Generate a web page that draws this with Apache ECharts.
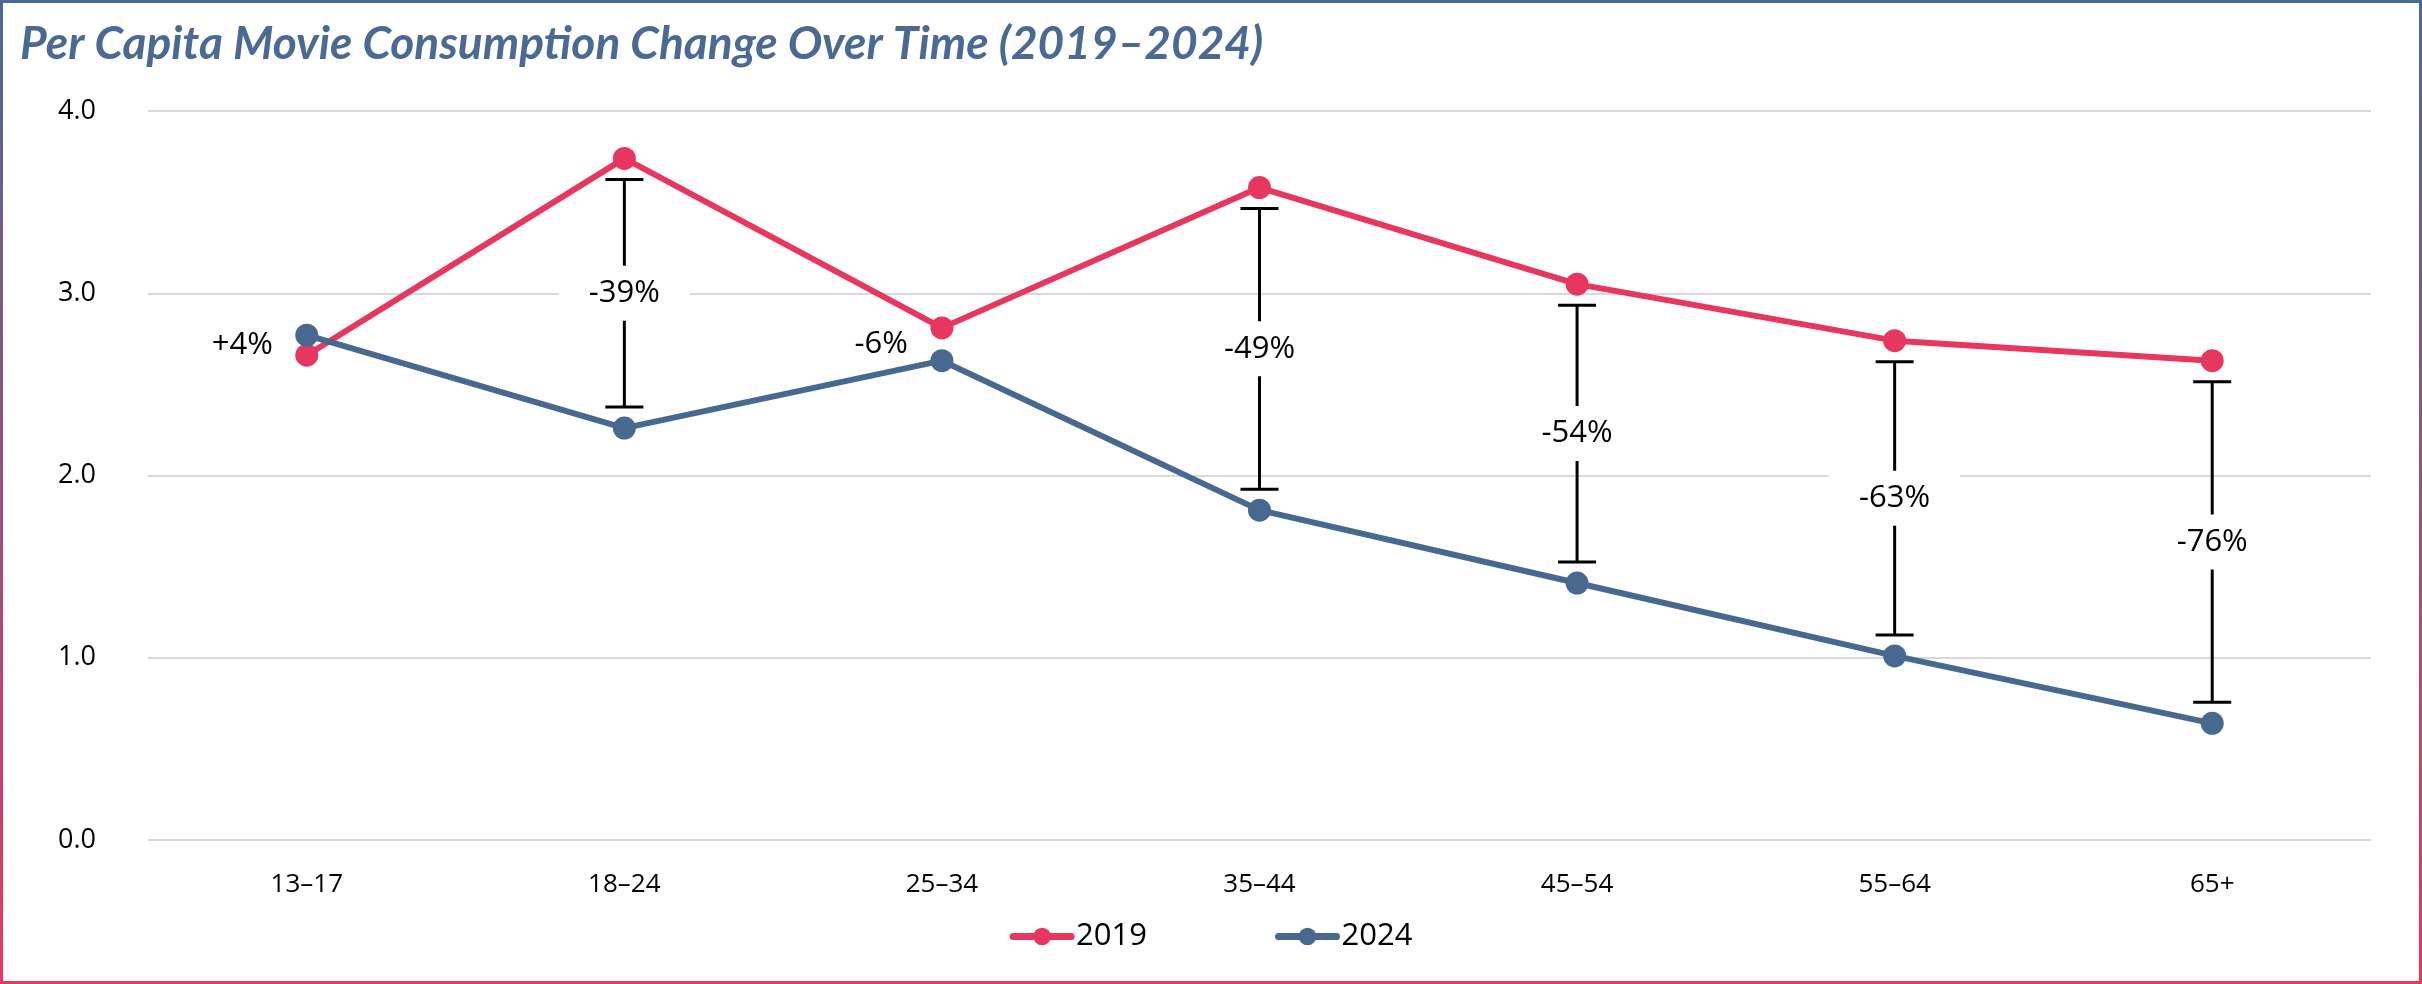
<!DOCTYPE html>
<html>
<head>
<meta charset="utf-8">
<script src="https://cdn.jsdelivr.net/npm/echarts@6/dist/echarts.min.js"></script>
<style>
html, body { margin: 0; padding: 0; background: #fff; }
#frame {
    width: 2422px; height: 984px; box-sizing: border-box;
    border: 3px solid; border-image: linear-gradient(to bottom, #4a6a94, #e8375e) 1;
}
#main { width: 100%; height: 100%; }
</style>
</head>
<body>
<div id="frame"><div id="main"></div></div>
<script>
// data
var ageGroups = ['13–17', '18–24', '25–34', '35–44', '45–54', '55–64', '65+'];
var v2019 = [2.66, 3.74, 2.81, 3.58, 3.05, 2.74, 2.63];
var v2024 = [2.77, 2.26, 2.63, 1.81, 1.41, 1.01, 0.64];
var changeLabels = ['+4%', '-39%', '-6%', '-49%', '-54%', '-63%', '-76%'];
var showBar = [false, true, false, true, true, true, true];

var RED = '#e8375e';
var BLUE = '#476990';

// change markers: bracket between the two points, or a side label when the gap is small
function renderChange(params, api) {
    var i = api.value(0);
    var top = api.coord([i, api.value(1)]);
    var bot = api.coord([i, api.value(2)]);
    var x = top[0];
    var mid = (top[1] + bot[1]) / 2;
    var font = { fontSize: 31, fontFamily: '"Open Sans"', fill: '#000' };
    if (!showBar[i]) {
        return {
            type: 'text',
            style: Object.assign({ text: changeLabels[i], x: x - 34, y: mid, align: 'right', verticalAlign: 'middle' }, font)
        };
    }
    var y1 = top[1] + 21, y2 = bot[1] - 21, cap = 19;
    var ln = { stroke: '#000', lineWidth: 3 };
    return {
        type: 'group',
        children: [
            { type: 'line', shape: { x1: x, y1: y1, x2: x, y2: y2 }, style: ln },
            { type: 'line', shape: { x1: x - cap, y1: y1, x2: x + cap, y2: y1 }, style: ln },
            { type: 'line', shape: { x1: x - cap, y1: y2, x2: x + cap, y2: y2 }, style: ln },
            {
                type: 'text', z2: 10,
                style: Object.assign({
                    text: changeLabels[i], x: x, y: mid, align: 'center', verticalAlign: 'middle',
                    backgroundColor: '#fff', padding: [12, 30]
                }, font)
            }
        ]
    };
}

var chart = echarts.init(document.getElementById('main'));
chart.setOption({
    animation: false,
    title: {
        text: 'Per Capita Movie Consumption Change Over Time (2019–2024)',
        left: 12, top: 13,
        textStyle: { fontFamily: 'Lato', fontStyle: 'italic', fontWeight: 'bold', fontSize: 46, color: '#4a6a94' }
    },
    legend: {
        data: ['2019', '2024'],
        bottom: 24,
        itemWidth: 58, itemHeight: 22, itemGap: 128,
        lineStyle: { width: 7, cap: 'round' },
        textStyle: { fontFamily: '"Open Sans"', fontSize: 31, color: '#000' }
    },
    grid: { left: 145, right: 48, top: 108, bottom: 141 },
    xAxis: {
        type: 'category',
        data: ageGroups,
        axisLine: { show: false },
        axisTick: { show: false },
        axisLabel: { margin: 32, fontFamily: '"Open Sans"', fontSize: 26, color: '#000' }
    },
    yAxis: {
        type: 'value', min: 0, max: 4, interval: 1,
        axisLabel: {
            margin: 52, fontFamily: '"Open Sans"', fontSize: 27, color: '#000',
            formatter: function (v) { return v.toFixed(1); }
        },
        splitLine: { lineStyle: { color: '#d9d9d9', width: 2 } }
    },
    series: [
        {
            name: '2019', type: 'line', data: v2019,
            symbol: 'circle', symbolSize: 23,
            itemStyle: { color: RED }, lineStyle: { color: RED, width: 6 }
        },
        {
            name: '2024', type: 'line', data: v2024,
            symbol: 'circle', symbolSize: 23,
            itemStyle: { color: BLUE }, lineStyle: { color: BLUE, width: 6 }
        },
        {
            name: 'change', type: 'custom', renderItem: renderChange,
            data: ageGroups.map(function (c, i) { return [i, v2019[i], v2024[i]]; }),
            encode: { x: 0, y: [1, 2] },
            silent: true, z: 1
        }
    ]
});
</script>
</body>
</html>
